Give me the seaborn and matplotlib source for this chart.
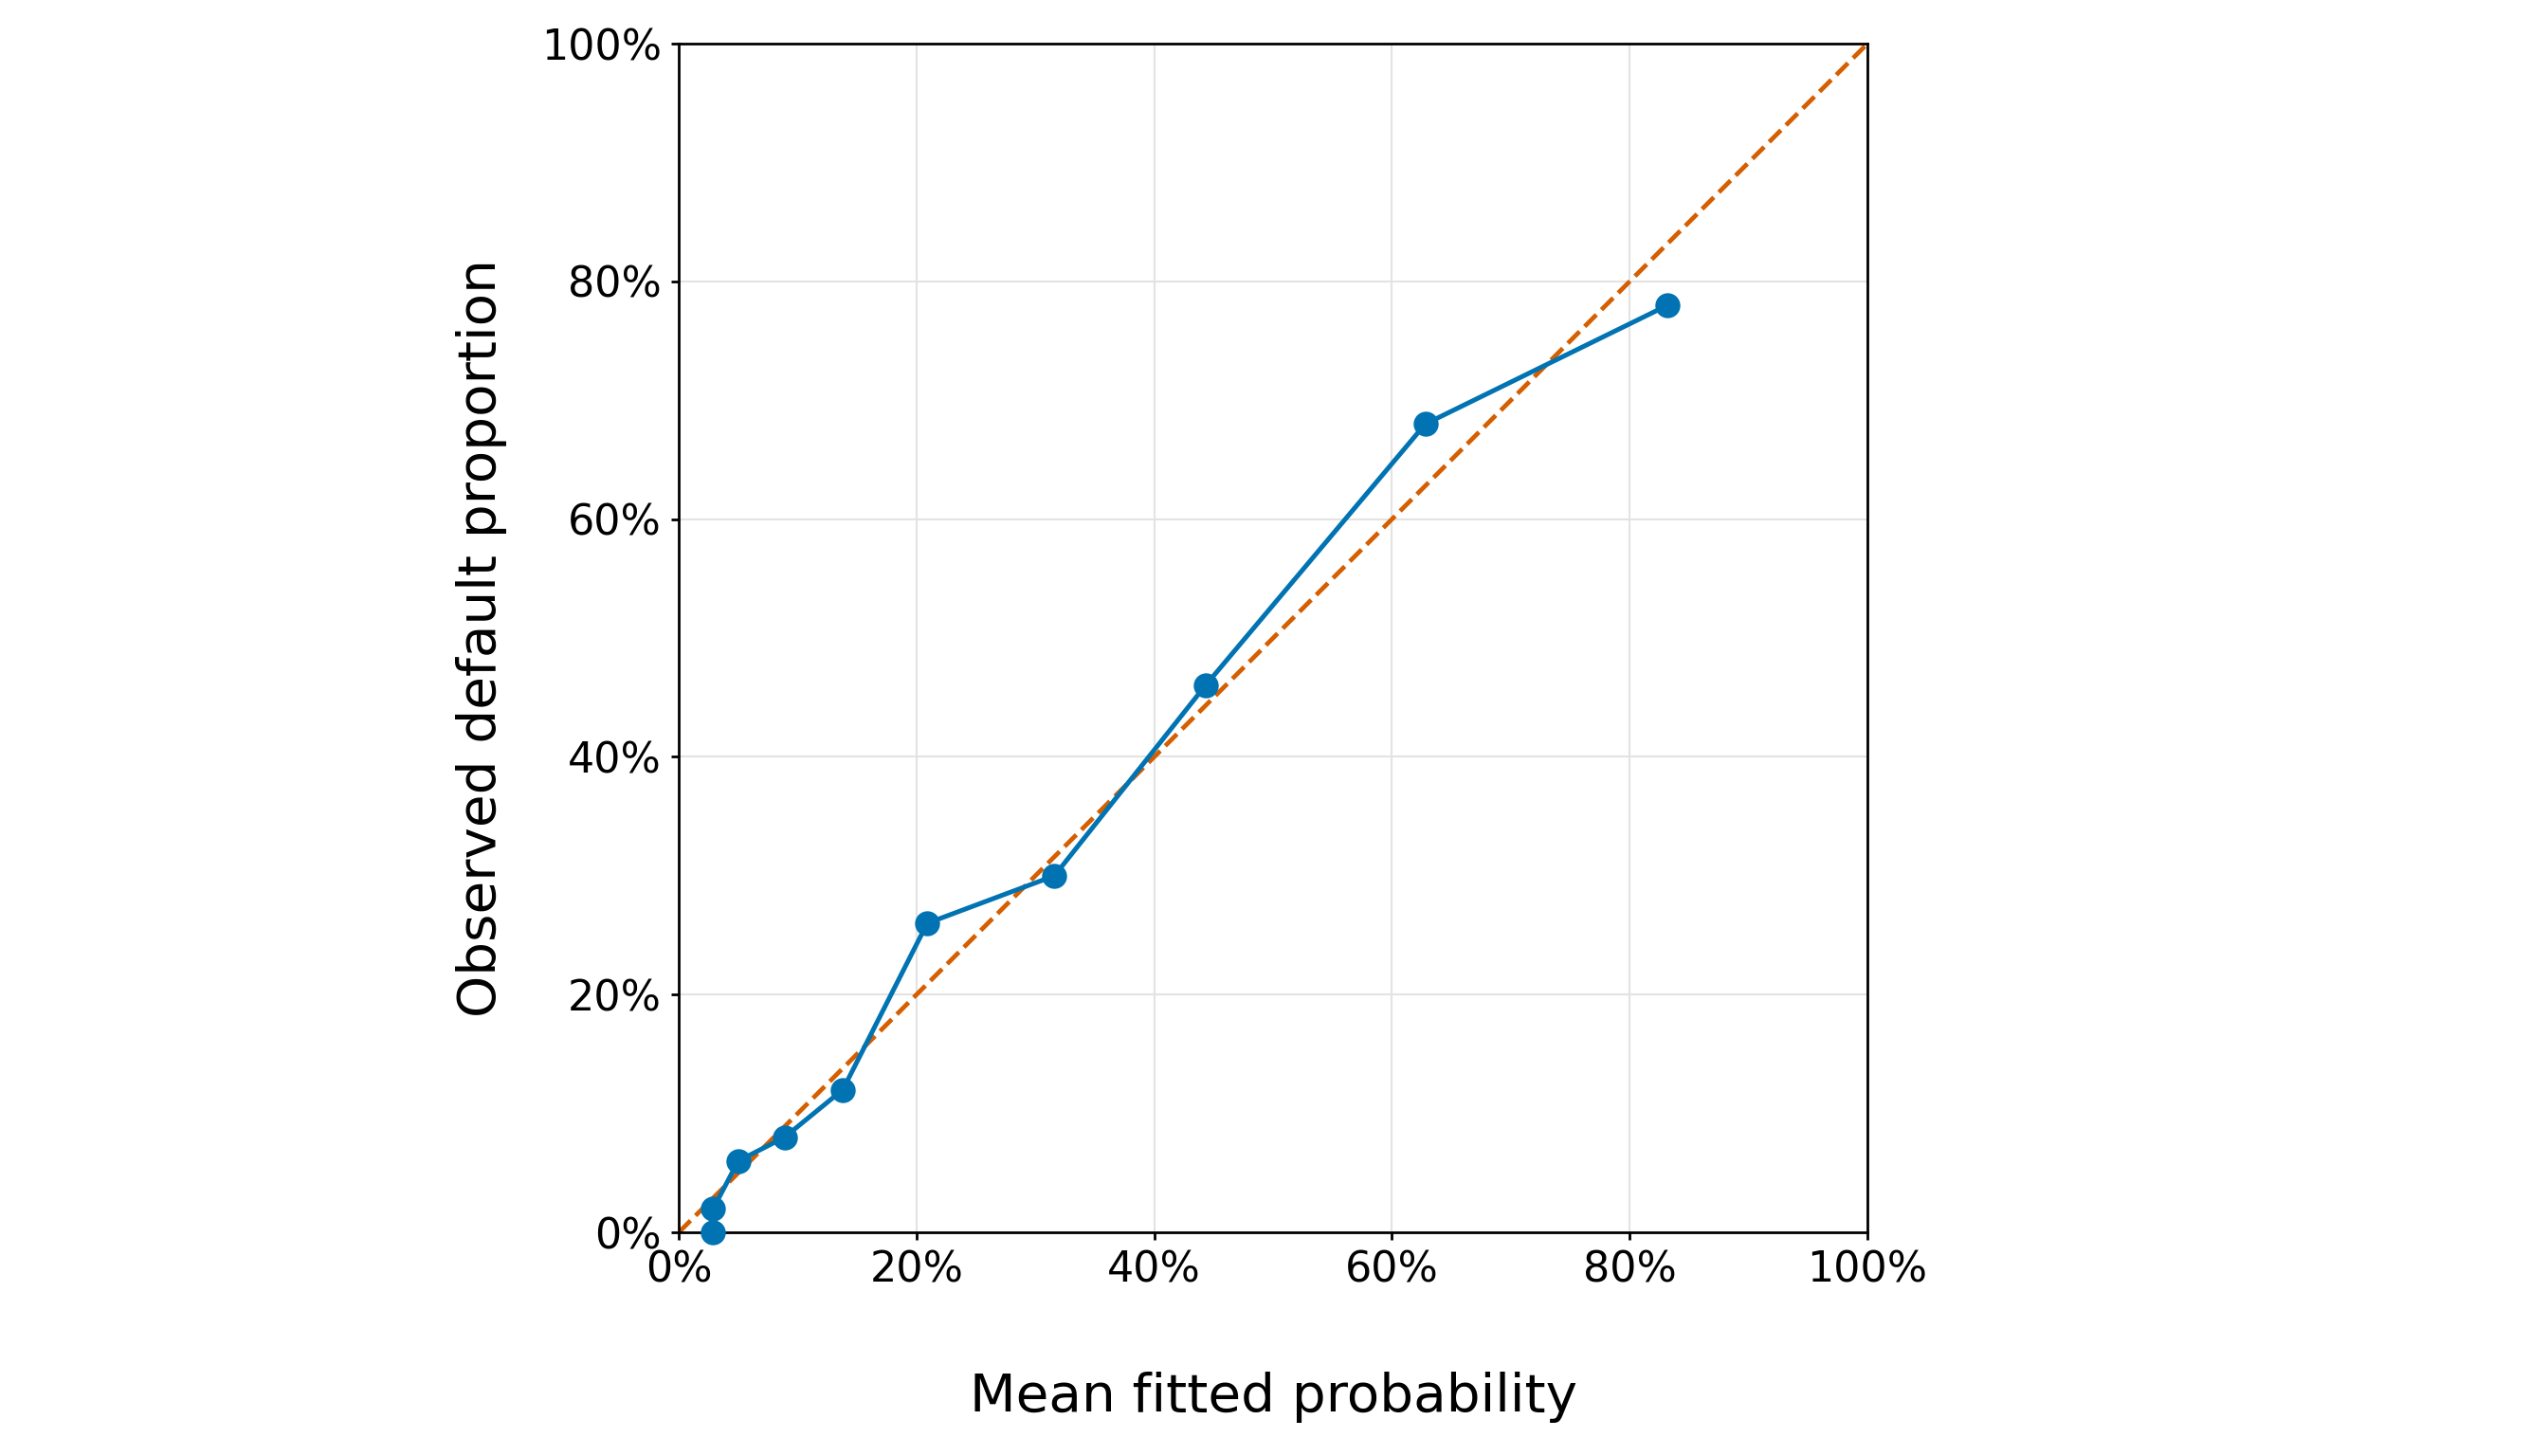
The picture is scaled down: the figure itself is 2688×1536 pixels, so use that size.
import numpy as np
import pandas as pd
import matplotlib
matplotlib.use("Agg")
import matplotlib.pyplot as plt
import seaborn as sns
from matplotlib.ticker import PercentFormatter

# calibration bins: mean fitted probability vs observed default share
mean_fitted = [0.029, 0.029, 0.050, 0.089, 0.138, 0.209, 0.316, 0.443, 0.628, 0.832]
observed = [0.00, 0.02, 0.06, 0.08, 0.12, 0.26, 0.30, 0.46, 0.68, 0.78]
diag = [0.0, 1.0]
ticks = [0.0, 0.2, 0.4, 0.6, 0.8, 1.0]

df = pd.DataFrame({"fitted": mean_fitted, "observed": observed})

pal = sns.color_palette("colorblind")
blue = pal[0]
red = pal[3]

fig = plt.figure(figsize=(13.44, 7.68), dpi=200)
ax = fig.add_axes([0.2664, 0.1536, 0.4665, 0.8164])

ax.grid(True, color="#e3e3e3", linewidth=0.75, zorder=0)
ax.set_axisbelow(True)

ax.plot(diag, diag, linestyle="--", color=red, linewidth=1.7, zorder=2)
sns.lineplot(data=df, x="fitted", y="observed", ax=ax, color=blue, linewidth=1.8,
             marker="o", markersize=9.5, markeredgewidth=0, sort=False,
             estimator=None, zorder=3, clip_on=False)

ax.set_xlim(0, 1)
ax.set_ylim(0, 1)
ax.set_aspect("equal")
ax.set_xticks(ticks)
ax.set_yticks(ticks)
ax.xaxis.set_major_formatter(PercentFormatter(1.0, decimals=0))
ax.yaxis.set_major_formatter(PercentFormatter(1.0, decimals=0))
ax.tick_params(labelsize=16, length=3, width=1)
for s in ax.spines.values():
    s.set_color("black")
    s.set_linewidth(1)

ax.set_xlabel("Mean fitted probability", fontsize=20.3, labelpad=31)
ax.set_ylabel("Observed default proportion", fontsize=20.3, labelpad=13)

fig.savefig("out.png", dpi=200)
